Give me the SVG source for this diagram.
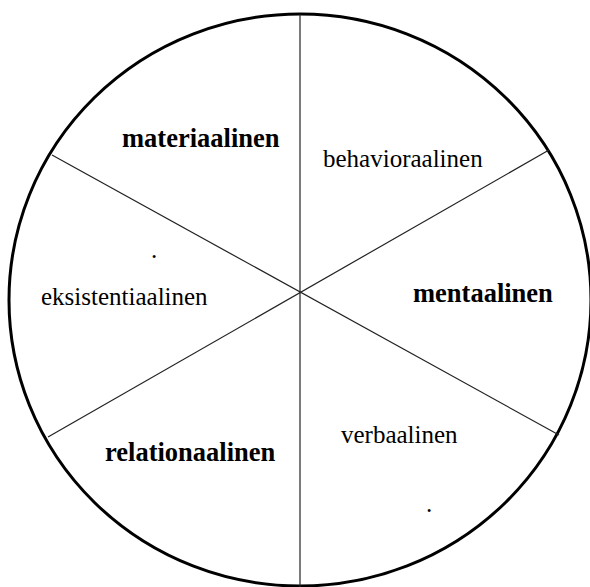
<svg xmlns="http://www.w3.org/2000/svg" width="590" height="587" viewBox="0 0 590 587">
<style>
.t{font-family:"Liberation Serif","Times New Roman",serif;font-size:25px;fill:#000}
.b{font-weight:bold;font-size:26.5px}
.ln{stroke:#222;stroke-width:1.2;fill:none}
</style>
<rect width="590" height="587" fill="#fff"/>
<g id="circle"><ellipse cx="300" cy="300" rx="291" ry="286" fill="none" stroke="#000" stroke-width="3"/></g>
<g id="connectors">
<line class="ln" x1="300" y1="14" x2="300" y2="587"/>
<line class="ln" x1="52" y1="155" x2="559" y2="435"/>
<line class="ln" x1="48" y1="437" x2="549" y2="150"/>
</g>
<g id="materiaalinen"><text class="t b" x="122" y="147">materiaalinen</text></g>
<g id="behavioraalinen"><text class="t" x="323" y="167">behavioraalinen</text></g>
<g id="eksistentiaalinen"><text class="t" x="41" y="305">eksistentiaalinen</text><text class="t" x="151" y="258">.</text></g>
<g id="mentaalinen"><text class="t b" x="413" y="302">mentaalinen</text></g>
<g id="relationaalinen"><text class="t b" x="105" y="461">relationaalinen</text></g>
<g id="verbaalinen"><text class="t" x="341" y="443">verbaalinen</text><text class="t" x="426" y="512">.</text></g>
</svg>
